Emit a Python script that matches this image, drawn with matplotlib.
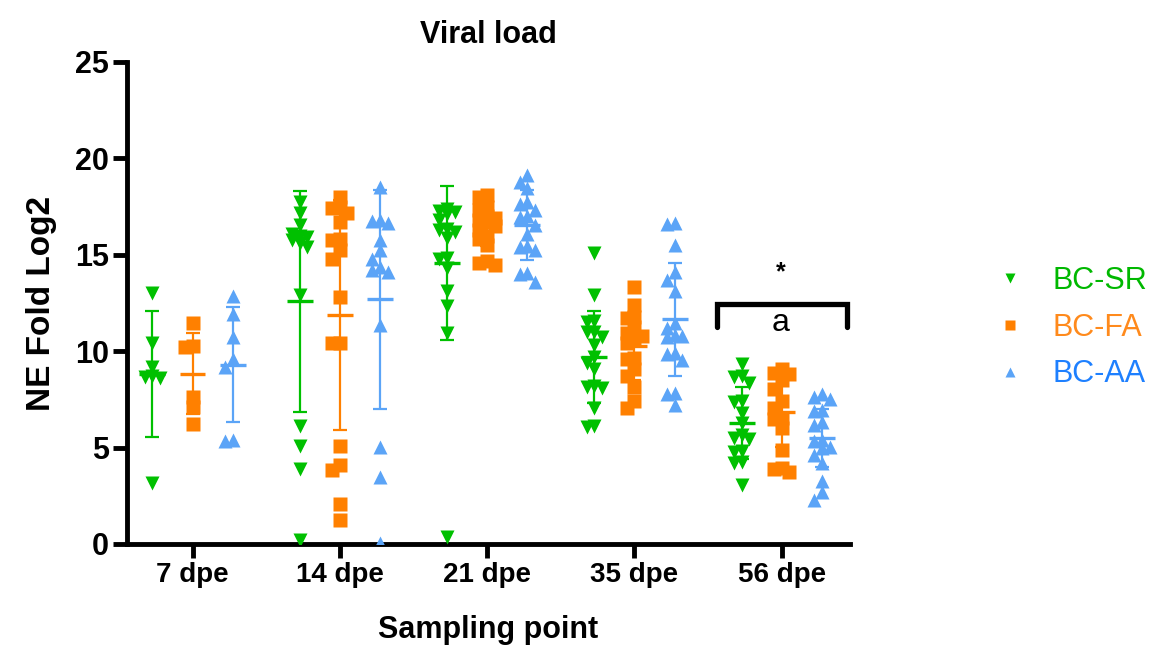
import numpy as np
import matplotlib.pyplot as plt
from matplotlib.lines import Line2D

plt.rcParams['font.family'] = ['Liberation Sans', 'DejaVu Sans']

sampling_points = ['7 dpe', '14 dpe', '21 dpe', '35 dpe', '56 dpe']
series_names = ['BC-SR', 'BC-FA', 'BC-AA']

# values, one list per sampling point
sr_values = [
    [13.0, 10.4, 9.2, 8.7, 8.65, 8.6, 3.15],
    [17.75, 17.15, 16.55, 16.1, 16.0, 15.9, 15.77, 15.6, 15.42, 12.9, 6.1, 5.1, 3.9, 0.2],
    [17.4, 17.25, 17.2, 17.1, 16.8, 16.35, 16.3, 16.2, 15.85, 14.85, 14.8, 14.3, 13.1, 12.35, 10.95, 0.35],
    [15.07, 12.9, 11.55, 11.5, 11.0, 11.0, 10.75, 10.3, 9.7, 9.4, 9.1, 8.2, 8.15, 8.1, 7.05, 6.1, 6.05],
    [9.35, 8.7, 8.65, 8.35, 7.4, 7.35, 6.8, 6.25, 5.65, 5.5, 5.45, 4.8, 4.75, 4.25, 4.2, 3.05],
]
fa_values = [
    [11.48, 10.27, 10.2, 7.64, 7.12, 6.22],
    [18.0, 17.5, 17.45, 17.15, 16.7, 15.8, 15.75, 15.25, 14.8, 12.8, 10.45, 10.4, 5.1, 4.1, 3.85, 2.1, 1.25],
    [18.1, 18.0, 17.5, 17.3, 17.0, 16.9, 16.8, 16.7, 16.5, 16.3, 16.0, 15.8, 15.5, 14.7, 14.6, 14.45],
    [13.35, 12.4, 11.75, 11.7, 11.25, 10.95, 10.8, 10.7, 10.4, 9.65, 9.6, 9.1, 8.7, 8.15, 7.4, 7.05],
    [9.1, 8.85, 8.8, 8.5, 8.05, 7.4, 7.05, 6.55, 6.5, 6.0, 4.9, 3.95, 3.9, 3.75],
]
aa_values = [
    [12.86, 11.93, 10.75, 9.58, 9.2, 5.38, 5.34],
    [18.53, 16.8, 16.75, 16.63, 15.77, 15.25, 14.77, 14.38, 14.21, 14.12, 11.36, 5.05, 3.5, 0.05],
    [19.15, 18.8, 18.45, 17.75, 17.65, 17.3, 17.0, 16.95, 16.55, 16.1, 15.45, 15.4, 15.25, 14.05, 14.0, 13.6],
    [16.65, 16.6, 15.5, 14.1, 13.7, 13.1, 11.45, 11.2, 10.85, 10.8, 10.75, 9.9, 9.85, 9.55, 7.85, 7.8, 7.2],
    [7.8, 7.6, 7.5, 6.95, 6.9, 6.35, 6.15, 5.4, 5.35, 5.05, 5.0, 4.6, 4.2, 3.25, 2.7, 2.3],
]

# mean and SD as drawn in the reference
sr_mean = [8.82, 12.6, 14.59, 9.71, 6.26]
sr_sd = [3.25, 5.73, 3.99, 2.39, 1.87]
fa_mean = [8.82, 11.88, 16.5, 10.25, 6.85]
fa_sd = [2.1, 5.97, 1.05, 1.75, 1.8]
aa_mean = [9.3, 12.69, 16.55, 11.65, 5.5]
aa_sd = [2.97, 5.67, 1.82, 2.93, 1.5]

marker_colors = ['#00C000', '#FF8000', '#5BA4F7']
text_colors = ['#00B800', '#FF8A1C', '#1E80FF']
markers = ['v', 's', '^']
offsets = [-0.272, 0.0, 0.272]


def swarm_offsets(vals, step=0.052, gap=0.5):
    # simple column layout: overlapping points go left / right
    vals = np.asarray(vals)
    order = np.argsort(vals)[::-1]
    placed = []
    offs = np.zeros(len(vals))
    for i in order:
        v = vals[i]
        best, best_d = 0, -1
        for slot in [0, -1, 1]:
            d = min([abs(v - pv) for pv, ps in placed if ps == slot] + [99])
            if d >= gap:
                best = slot
                break
            if d > best_d:
                best, best_d = slot, d
        placed.append((v, best))
        offs[i] = best * step
    return offs


fig = plt.figure(figsize=(11.55, 6.45), dpi=100)
ax = fig.add_axes([0.1098, 0.1566, 0.626, 0.7473])

all_values = [sr_values, fa_values, aa_values]
all_means = [sr_mean, fa_mean, aa_mean]
all_sds = [sr_sd, fa_sd, aa_sd]

for s in range(3):
    for g in range(len(sampling_points)):
        vals = all_values[s][g]
        xc = g + offsets[s]
        xs = xc + swarm_offsets(vals)
        ax.plot(xs, vals, linestyle='none', marker=markers[s], ms=10.5,
                color=marker_colors[s], mec='none', zorder=3)
    xc = np.arange(len(sampling_points)) + offsets[s]
    ax.errorbar(xc, all_means[s], yerr=all_sds[s], fmt='none',
                ecolor=marker_colors[s], elinewidth=1.6, capsize=5,
                capthick=1.6, zorder=4)
    ax.hlines(all_means[s], xc - 0.088, xc + 0.088, colors=marker_colors[s],
              lw=2.4, zorder=4)

# significance bracket at 56 dpe
ax.plot([3.56, 3.56, 4.44, 4.44], [11.25, 12.45, 12.45, 11.25], color='black',
        lw=3.8, solid_capstyle='round', solid_joinstyle='miter', zorder=5,
        clip_on=False)
ax.text(3.99, 11.45, 'a', ha='center', va='center', fontsize=23)
ax.text(3.99, 14.1, '*', ha='center', va='center', fontsize=18,
        fontweight='bold')

ax.set_xlim(-0.446, 4.462)
ax.set_ylim(0, 25)
ax.set_yticks([0, 5, 10, 15, 20, 25])
ax.set_xticks(range(len(sampling_points)))
ax.set_xticklabels(sampling_points)

for side in ['top', 'right']:
    ax.spines[side].set_visible(False)
for side in ['left', 'bottom']:
    ax.spines[side].set_linewidth(3.5)
ax.tick_params(width=3.5, length=10, labelsize=20, pad=3)
ax.tick_params(axis='y', labelsize=22)
for lab in ax.get_xticklabels() + ax.get_yticklabels():
    lab.set_fontweight('bold')

ax.set_title('Viral load', fontsize=22, fontweight='bold', pad=14)
ax.set_ylabel('NE Fold Log2', fontsize=24, fontweight='bold')
ax.yaxis.set_label_coords(-0.097, 0.5)
ax.set_xlabel('Sampling point', fontsize=22, fontweight='bold', va='top')
ax.xaxis.set_label_coords(0.5, -0.147)

handles = [Line2D([], [], linestyle='none', marker=markers[s], ms=7.5,
                  color=marker_colors[s], mec='none') for s in range(3)]
leg = fig.legend(handles, series_names, loc='center left',
                 bbox_to_anchor=(0.848, 0.492), frameon=False, fontsize=22,
                 handlelength=2, handletextpad=0.4, labelspacing=0.55,
                 borderpad=0, borderaxespad=0)
for txt, c in zip(leg.get_texts(), text_colors):
    txt.set_color(c)

fig.savefig('out.png', dpi=100)
